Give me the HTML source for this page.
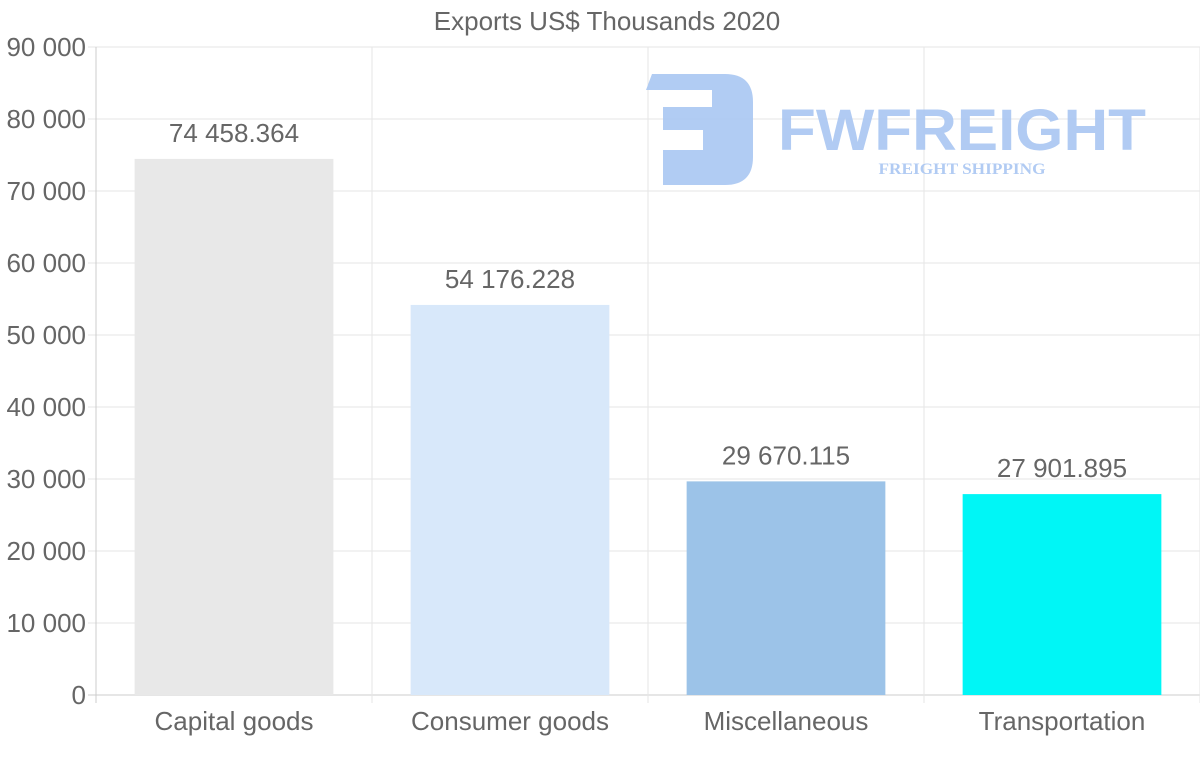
<!DOCTYPE html>
<html><head><meta charset="utf-8"><style>
body{margin:0;background:#fff;}
svg{display:block;font-family:"Liberation Sans",sans-serif;}
</style></head><body>
<svg id="c" width="1200" height="763">
<text x="607" y="30" text-anchor="middle" font-size="26" fill="#666">Exports US$ Thousands 2020</text>
<g id="grid"></g>
<g id="logo" fill="#a9c6f2" opacity="0.9">
<path d="M652 74 H725 Q753 74 753 102 V157 Q753 185 725 185 H663 V150 H703 V130 H663 V107 H712 V90 H646 Z"/>
<text x="962" y="150" text-anchor="middle" font-size="58" font-weight="bold" textLength="368" lengthAdjust="spacingAndGlyphs">FWFREIGHT</text>
<text x="962" y="174" text-anchor="middle" font-family="Liberation Serif,serif" font-size="16" font-weight="bold" textLength="167" lengthAdjust="spacingAndGlyphs">FREIGHT SHIPPING</text>
</g>
<g id="bars"></g>
<g id="axes"></g>
</svg>
<script>
const categories = ["Capital goods","Consumer goods","Miscellaneous","Transportation"];
const values = [74458.364,54176.228,29670.115,27901.895];
const valueLabels = ["74 458.364","54 176.228","29 670.115","27 901.895"];
const colors = ["#e8e8e8","#d8e8fa","#9cc3e8","#00f6f6"];
const yTicks = [0,10000,20000,30000,40000,50000,60000,70000,80000,90000];
const yTickLabels = ["0","10 000","20 000","30 000","40 000","50 000","60 000","70 000","80 000","90 000"];
const NS="http://www.w3.org/2000/svg";
const L=96,R=1200,T=47,B=695,yMax=90000;
const y=v=>B-(v/yMax)*(B-T);
const bw=(R-L)/categories.length;
const x=i=>L+i*bw;
function mk(tag,attrs,parent){const e=document.createElementNS(NS,tag);for(const k in attrs)e.setAttribute(k,attrs[k]);document.getElementById(parent).appendChild(e);return e;}
yTicks.forEach((t,i)=>{
  const g=mk("line",{x1:L-8,x2:R,y1:y(t),y2:y(t),stroke:i==0?"#ccc":"#e6e6e6","stroke-width":1},"grid");
  
  
  const tx=mk("text",{x:L-10,y:y(t)+9,"text-anchor":"end","font-size":26,fill:"#666"},"axes");
  tx.textContent=yTickLabels[i];
  
  
});
for(let i=0;i<=categories.length;i++){
  const g=mk("line",{x1:x(i),x2:x(i),y1:T,y2:B+8,stroke:i==0?"#ccc":"#e6e6e6","stroke-width":1},"grid");
  
  
}
categories.forEach((c,i)=>{
  const w=bw*0.72, bx=x(i)+(bw-w)/2;
  const r=mk("rect",{x:bx,y:y(values[i]),width:w,height:B-y(values[i]),fill:colors[i]},"bars");
  
  
  const v=mk("text",{x:x(i)+bw/2,y:y(values[i])-17,"text-anchor":"middle","font-size":26,fill:"#666"},"bars");
  v.textContent=valueLabels[i];
  
  
  const t=mk("text",{x:x(i)+bw/2,y:730,"text-anchor":"middle","font-size":26,fill:"#666"},"axes");
  t.textContent=c;
  
  
});
</script>
</body></html>
